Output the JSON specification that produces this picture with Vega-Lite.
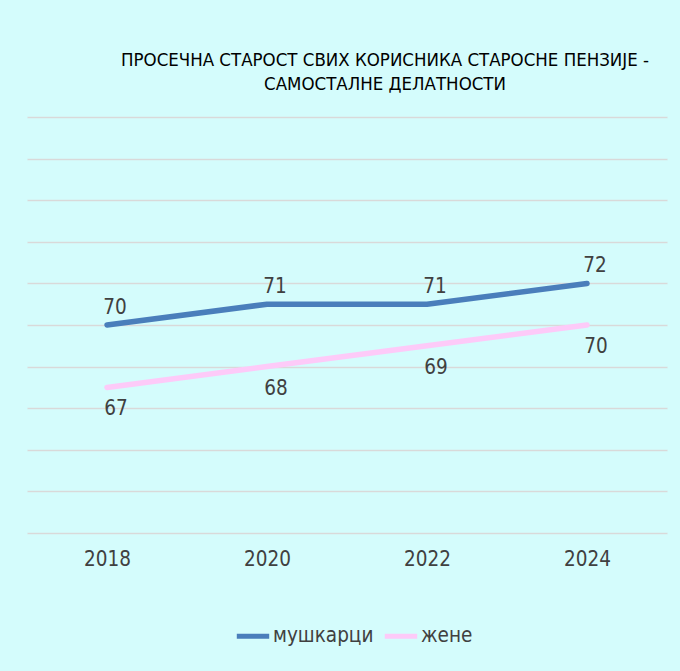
{
  "$schema": "https://vega.github.io/schema/vega-lite/v6.json",
  "width": 640,
  "height": 416,
  "autosize": {"type": "none"},
  "padding": {"left": 27, "top": 117, "right": 13, "bottom": 138},
  "background": "#D4FCFC",
  "config": {
    "view": {"stroke": null},
    "font": "DejaVu Sans Condensed"
  },
  "title": {
    "text": ["ПРОСЕЧНА СТАРОСТ СВИХ КОРИСНИКА СТАРОСНЕ ПЕНЗИЈЕ -", "САМОСТАЛНЕ ДЕЛАТНОСТИ"],
    "font": "DejaVu Sans Condensed",
    "fontSize": 18.5,
    "fontWeight": "normal",
    "color": "#000000",
    "lineHeight": 24,
    "anchor": "middle",
    "dx": 38,
    "offset": 24
  },
  "data": {
    "values": [
      {"year": "2018", "series": "мушкарци", "value": 70},
      {"year": "2020", "series": "мушкарци", "value": 71},
      {"year": "2022", "series": "мушкарци", "value": 71},
      {"year": "2024", "series": "мушкарци", "value": 72},
      {"year": "2018", "series": "жене", "value": 67},
      {"year": "2020", "series": "жене", "value": 68},
      {"year": "2022", "series": "жене", "value": 69},
      {"year": "2024", "series": "жене", "value": 70}
    ]
  },
  "encoding": {
    "x": {
      "field": "year",
      "type": "ordinal",
      "scale": {"type": "point", "padding": 0.5},
      "axis": {
        "title": null,
        "labelAngle": 0,
        "ticks": false,
        "domain": false,
        "labelFont": "DejaVu Sans Condensed",
        "labelFontSize": 20.5,
        "labelColor": "#404040",
        "labelPadding": 16,
        "grid": false
      }
    },
    "y": {
      "field": "value",
      "type": "quantitative",
      "scale": {"domain": [60, 80], "zero": false, "nice": false},
      "axis": {
        "title": null,
        "labels": false,
        "ticks": false,
        "domain": false,
        "values": [60, 62, 64, 66, 68, 70, 72, 74, 76, 78, 80],
        "gridColor": "#D9D9D9",
        "gridWidth": 1.5
      }
    }
  },
  "layer": [
    {
      "mark": {"type": "line", "strokeWidth": 5.5, "strokeCap": "round", "strokeJoin": "round"},
      "encoding": {
        "color": {
          "field": "series",
          "type": "nominal",
          "scale": {"domain": ["мушкарци", "жене"], "range": ["#4A7EBB", "#FDCAF8"]},
          "legend": {
            "title": null,
            "orient": "none",
            "direction": "horizontal",
            "legendX": 207,
            "legendY": 500,
            "symbolType": "stroke",
            "symbolSize": 1050,
            "symbolStrokeWidth": 5,
            "labelFont": "DejaVu Sans Condensed",
            "labelFontSize": 20.5,
            "labelColor": "#404040",
            "labelOffset": 1,
            "columnPadding": 0
          }
        }
      }
    },
    {
      "transform": [{"filter": "datum.series === 'мушкарци'"}],
      "mark": {"type": "text", "dx": 8, "dy": -17, "fontSize": 20.5, "color": "#404040", "font": "DejaVu Sans Condensed"},
      "encoding": {"text": {"field": "value", "type": "quantitative"}}
    },
    {
      "transform": [{"filter": "datum.series === 'жене'"}],
      "mark": {"type": "text", "dx": 9, "dy": 22, "fontSize": 20.5, "color": "#404040", "font": "DejaVu Sans Condensed"},
      "encoding": {"text": {"field": "value", "type": "quantitative"}}
    }
  ]
}
